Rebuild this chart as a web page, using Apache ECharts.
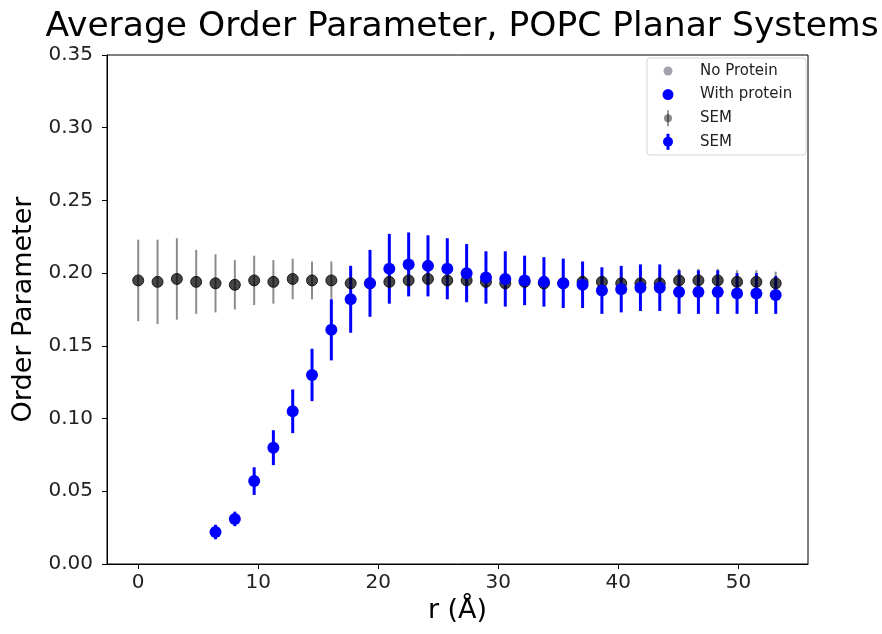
<!DOCTYPE html>
<html>
<head>
<meta charset="utf-8">
<script src="https://cdn.jsdelivr.net/npm/echarts@6/dist/echarts.min.js"></script>
<style>html,body{margin:0;padding:0;background:#fff;}#chart{width:882px;height:634px;}</style>
</head>
<body>
<div id="chart"></div>
<script>
// r positions (Å)
const rValues = [0, 1.61, 3.22, 4.83, 6.44, 8.05, 9.66, 11.26, 12.87, 14.48, 16.09, 17.70, 19.31, 20.92, 22.53, 24.14, 25.75, 27.36, 28.97, 30.58, 32.19, 33.80, 35.41, 37.02, 38.63, 40.24, 41.84, 43.45, 45.06, 46.67, 48.28, 49.89, 51.50, 53.11];
// No protein: mean order parameter and SEM
const noProteinMean = [0.195, 0.194, 0.196, 0.194, 0.193, 0.192, 0.195, 0.194, 0.196, 0.195, 0.195, 0.193, 0.193, 0.194, 0.195, 0.196, 0.195, 0.195, 0.194, 0.193, 0.194, 0.193, 0.193, 0.194, 0.194, 0.193, 0.193, 0.193, 0.195, 0.195, 0.195, 0.194, 0.194, 0.193];
const noProteinSEM = [0.028, 0.029, 0.028, 0.022, 0.020, 0.017, 0.017, 0.015, 0.014, 0.013, 0.013, 0.012, 0.011, 0.011, 0.010, 0.010, 0.010, 0.009, 0.009, 0.008, 0.008, 0.008, 0.008, 0.008, 0.008, 0.008, 0.008, 0.008, 0.008, 0.008, 0.008, 0.008, 0.008, 0.008];
// With protein: mean order parameter and SEM
const withProteinMean = [null, null, null, null, 0.022, 0.031, 0.057, 0.080, 0.105, 0.130, 0.161, 0.182, 0.193, 0.203, 0.206, 0.205, 0.203, 0.200, 0.197, 0.196, 0.195, 0.194, 0.193, 0.192, 0.188, 0.189, 0.190, 0.190, 0.187, 0.187, 0.187, 0.186, 0.186, 0.185];
const withProteinSEM = [null, null, null, null, 0.005, 0.005, 0.0095, 0.012, 0.015, 0.018, 0.021, 0.023, 0.023, 0.024, 0.022, 0.021, 0.021, 0.020, 0.018, 0.019, 0.017, 0.017, 0.017, 0.016, 0.016, 0.016, 0.016, 0.016, 0.015, 0.015, 0.015, 0.014, 0.014, 0.013];
const xTicks = [0, 10, 20, 30, 40, 50];
const legendLabels = ['No Protein', 'With protein', 'SEM', 'SEM'];

const FONT = 'DejaVu Sans';
const GRAY_LINE = 'rgba(0,0,0,0.45)';
const GRAY_DOT = 'rgba(0,0,0,0.72)';
const BLUE = '#0000ff';

function pts(mean) { return rValues.map((r, i) => mean[i] == null ? null : [r, mean[i]]).filter(d => d); }
function errs(mean, sem) { return rValues.map((r, i) => mean[i] == null ? null : [r, mean[i] - sem[i], mean[i] + sem[i]]).filter(d => d); }
function errSeries(name, data, color, width) {
  return {
    name: name, type: 'custom', data: data, z: 2,
    encode: { x: 0, y: [1, 2] },
    renderItem: function (params, api) {
      const lo = api.coord([api.value(0), api.value(1)]);
      const hi = api.coord([api.value(0), api.value(2)]);
      return { type: 'line', shape: { x1: lo[0], y1: lo[1], x2: hi[0], y2: hi[1] }, style: { stroke: color, lineWidth: width } };
    }
  };
}

// legend drawn as graphic (box + markers + text)
const LX = 647, LY = 58, LW = 159, LH = 97, ROW0 = 71, ROWGAP = 23.6, MX = 668, TX = 700;
const legendMarkers = [
  [{ type: 'circle', shape: { cx: MX, cy: 0, r: 4.5 }, style: { fill: 'rgba(70,70,100,0.5)' } }],
  [{ type: 'circle', shape: { cx: MX, cy: 0, r: 5.5 }, style: { fill: BLUE } }],
  [{ type: 'line', shape: { x1: MX, y1: -8, x2: MX, y2: 8 }, style: { stroke: 'rgba(0,0,0,0.4)', lineWidth: 2 } },
   { type: 'circle', shape: { cx: MX, cy: 0, r: 4 }, style: { fill: 'rgba(0,0,0,0.45)' } }],
  [{ type: 'line', shape: { x1: MX, y1: -8, x2: MX, y2: 8 }, style: { stroke: BLUE, lineWidth: 3 } },
   { type: 'circle', shape: { cx: MX, cy: 0, r: 5 }, style: { fill: BLUE } }]
];
const legendGraphic = [{ type: 'rect', shape: { x: LX, y: LY, width: LW, height: LH, r: 3 }, style: { fill: 'rgba(255,255,255,0.85)', stroke: '#d4d4d4', lineWidth: 1 }, z: 100 }];
legendLabels.forEach((lab, i) => {
  const cy = ROW0 + i * ROWGAP;
  legendMarkers[i].forEach(m => {
    const el = JSON.parse(JSON.stringify(m));
    if (el.type === 'circle') el.shape.cy = cy; else { el.shape.y1 += cy; el.shape.y2 += cy; }
    el.z = 101;
    legendGraphic.push(el);
  });
  legendGraphic.push({ type: 'text', x: TX, y: cy, z: 101, style: { text: lab, fontFamily: FONT, fontSize: 15, fill: '#222', verticalAlign: 'middle', align: 'left' } });
});

const chart = echarts.init(document.getElementById('chart'));
chart.setOption({
  animation: false,
  backgroundColor: '#fff',
  title: {
    text: 'Average Order Parameter, POPC Planar Systems',
    left: 457, top: 5, textAlign: 'center',
    textStyle: { fontFamily: FONT, fontSize: 34.5, fontWeight: 'normal', color: '#000' }
  },
  grid: { left: 107, right: 74, top: 55, bottom: 70, show: true, borderColor: '#000', borderWidth: 1, backgroundColor: 'transparent' },
  graphic: legendGraphic,
  xAxis: {
    type: 'value', min: -2.6, max: 55.8,
    name: 'r (Å)', nameLocation: 'middle', nameGap: 32,
    nameTextStyle: { fontFamily: FONT, fontSize: 27, color: '#000' },
    axisLine: { show: true, onZero: false, lineStyle: { color: '#000' } },
    axisTick: { show: true, length: 5, customValues: xTicks, lineStyle: { color: '#000' } },
    axisLabel: { customValues: xTicks, fontFamily: FONT, fontSize: 20, color: '#222', margin: 9 },
    splitLine: { show: false }
  },
  yAxis: {
    type: 'value', min: 0, max: 0.35, interval: 0.05,
    name: 'Order Parameter', nameLocation: 'middle', nameGap: 70,
    nameTextStyle: { fontFamily: FONT, fontSize: 27, color: '#000' },
    axisLine: { show: true, onZero: false, lineStyle: { color: '#000' } },
    axisTick: { show: true, length: 5, lineStyle: { color: '#000' } },
    axisLabel: { fontFamily: FONT, fontSize: 20, color: '#222', margin: 14, formatter: v => v.toFixed(2) },
    splitLine: { show: false }
  },
  series: [
    errSeries('SEM', errs(noProteinMean, noProteinSEM), GRAY_LINE, 2),
    { name: 'No Protein', type: 'scatter', data: pts(noProteinMean), symbol: 'circle', symbolSize: 11, z: 3,
      itemStyle: { color: GRAY_DOT, borderColor: 'rgba(0,0,0,0.8)', borderWidth: 1, opacity: 1 } },
    errSeries('SEM ', errs(withProteinMean, withProteinSEM), BLUE, 3),
    { name: 'With protein', type: 'scatter', data: pts(withProteinMean), symbol: 'circle', symbolSize: 12, z: 4,
      itemStyle: { color: BLUE, opacity: 1 } }
  ]
});
</script>
</body>
</html>
